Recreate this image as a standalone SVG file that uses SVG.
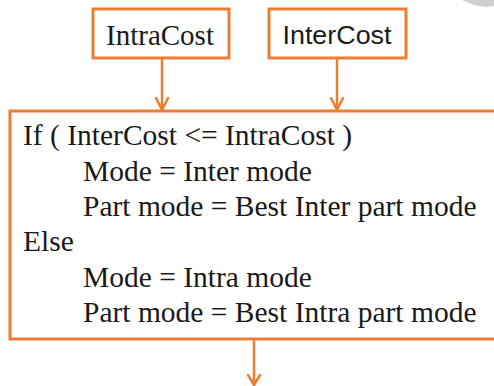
<svg xmlns="http://www.w3.org/2000/svg" width="494" height="386" viewBox="0 0 494 386">
<style>
.box{fill:#fff;stroke:#ED7D31;stroke-width:3}
.conn{fill:none;stroke:#ED7D31;stroke-width:2.5;stroke-linecap:round;stroke-linejoin:round}
.serif{font-family:'Liberation Serif','Times New Roman',serif;fill:#1a1a1a}
.sans{font-family:'Liberation Sans',Arial,sans-serif;fill:#1a1a1a}
.body{font-size:29.5px}
</style>
<rect width="494" height="386" fill="#fff"/>
<polygon points="462,0 494,0 494,6 486,7 474,5" fill="#d0d0d0"/>
<g id="connectors">
<path class="conn" d="M162,58 V110 M156,98 L162,110 L168,98"/>
<path class="conn" d="M337,58 V110 M331,98 L337,110 L343,98"/>
<path class="conn" d="M254,340 V385 M248,375 L254,385 L260,375"/>
</g>
<g id="intracost">
<rect class="box" x="93" y="9" width="136" height="49"/>
<text class="serif" x="160" y="44.5" font-size="29" text-anchor="middle">IntraCost</text>
</g>
<g id="intercost">
<rect class="box" x="269" y="9" width="137" height="49"/>
<text class="sans" x="337" y="43.5" font-size="26.5" text-anchor="middle" textLength="109" lengthAdjust="spacingAndGlyphs">InterCost</text>
</g>
<g id="decision">
<rect class="box" x="10" y="111" width="500" height="228"/>
<text class="serif body" x="23" y="145">If ( InterCost &lt;= IntraCost )</text>
<text class="serif body" x="83" y="180.5">Mode = Inter mode</text>
<text class="serif body" x="83" y="216">Part mode = Best Inter part mode</text>
<text class="serif body" x="23" y="251">Else</text>
<text class="serif body" x="83" y="287">Mode = Intra mode</text>
<text class="serif body" x="83" y="322">Part mode = Best Intra part mode</text>
</g>
</svg>
